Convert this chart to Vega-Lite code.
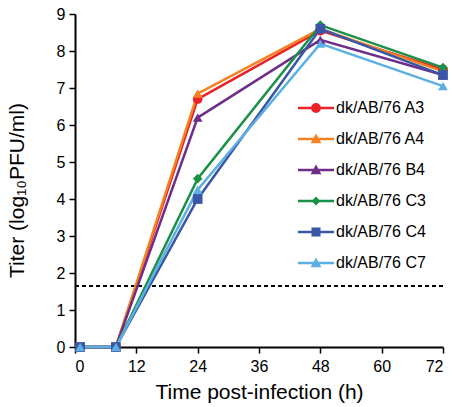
{
  "$schema": "https://vega.github.io/schema/vega-lite/v6.json",
  "autosize": "none",
  "width": 368,
  "height": 333,
  "padding": {"left": 75, "top": 14, "right": 9, "bottom": 60},
  "config": {
    "font": "Liberation Sans",
    "view": {"stroke": null},
    "axis": {"grid": false, "domainColor": "black", "domainWidth": 2, "tickColor": "black", "tickWidth": 1.5, "tickSize": 6, "labelColor": "black", "labelFontSize": 16, "titleFontSize": 21, "titleFontWeight": "normal", "titleColor": "black", "labelFont": "Liberation Sans", "titleFont": "Liberation Sans"}
  },
  "data": {"values": [
    {"series": "dk/AB/76 A3", "t": 1, "titer": 0},
    {"series": "dk/AB/76 A3", "t": 8, "titer": 0},
    {"series": "dk/AB/76 A3", "t": 24, "titer": 6.7},
    {"series": "dk/AB/76 A3", "t": 48, "titer": 8.55},
    {"series": "dk/AB/76 A3", "t": 72, "titer": 7.5},
    {"series": "dk/AB/76 A4", "t": 1, "titer": 0},
    {"series": "dk/AB/76 A4", "t": 8, "titer": 0},
    {"series": "dk/AB/76 A4", "t": 24, "titer": 6.85},
    {"series": "dk/AB/76 A4", "t": 48, "titer": 8.6},
    {"series": "dk/AB/76 A4", "t": 72, "titer": 7.45},
    {"series": "dk/AB/76 B4", "t": 1, "titer": 0},
    {"series": "dk/AB/76 B4", "t": 8, "titer": 0},
    {"series": "dk/AB/76 B4", "t": 24, "titer": 6.2},
    {"series": "dk/AB/76 B4", "t": 48, "titer": 8.3},
    {"series": "dk/AB/76 B4", "t": 72, "titer": 7.35},
    {"series": "dk/AB/76 C3", "t": 1, "titer": 0},
    {"series": "dk/AB/76 C3", "t": 8, "titer": 0},
    {"series": "dk/AB/76 C3", "t": 24, "titer": 4.55},
    {"series": "dk/AB/76 C3", "t": 48, "titer": 8.7},
    {"series": "dk/AB/76 C3", "t": 72, "titer": 7.55},
    {"series": "dk/AB/76 C4", "t": 1, "titer": 0},
    {"series": "dk/AB/76 C4", "t": 8, "titer": 0},
    {"series": "dk/AB/76 C4", "t": 24, "titer": 4.0},
    {"series": "dk/AB/76 C4", "t": 48, "titer": 8.6},
    {"series": "dk/AB/76 C4", "t": 72, "titer": 7.35},
    {"series": "dk/AB/76 C7", "t": 1, "titer": 0},
    {"series": "dk/AB/76 C7", "t": 8, "titer": 0},
    {"series": "dk/AB/76 C7", "t": 24, "titer": 4.25},
    {"series": "dk/AB/76 C7", "t": 48, "titer": 8.2},
    {"series": "dk/AB/76 C7", "t": 72, "titer": 7.05}
  ]},
  "encoding": {
    "x": {"field": "t", "type": "quantitative", "scale": {"domain": [0, 72], "nice": false}, "axis": {"values": [0, 12, 24, 36, 48, 60, 72], "title": "Time post-infection (h)", "labelPadding": 5, "titlePadding": 7}},
    "y": {"field": "titer", "type": "quantitative", "scale": {"domain": [0, 9], "nice": false}, "axis": {"values": [0, 1, 2, 3, 4, 5, 6, 7, 8, 9], "title": "Titer (log₁₀PFU/ml)", "labelPadding": 4, "titlePadding": 29, "titleY": 176}}
  },
  "layer": [
    {
      "mark": {"type": "rule", "strokeDash": [4, 3], "color": "black", "strokeWidth": 1.3},
      "encoding": {"x": {"datum": 0}, "x2": {"datum": 72}, "y": {"datum": 1.65}}
    },
    {
      "mark": {"type": "line", "strokeWidth": 2.5},
      "encoding": {
        "color": {"field": "series", "type": "nominal", "legend": null, "scale": {"domain": ["dk/AB/76 A3", "dk/AB/76 A4", "dk/AB/76 B4", "dk/AB/76 C3", "dk/AB/76 C4", "dk/AB/76 C7"], "range": ["#ea2227", "#f58220", "#6f2d8a", "#1a9147", "#3a56a6", "#5aafe3"]}}
      }
    },
    {
      "mark": {"type": "point", "filled": true, "opacity": 1, "size": 95},
      "encoding": {
        "color": {"field": "series", "type": "nominal", "legend": null, "scale": {"domain": ["dk/AB/76 A3", "dk/AB/76 A4", "dk/AB/76 B4", "dk/AB/76 C3", "dk/AB/76 C4", "dk/AB/76 C7"], "range": ["#ea2227", "#f58220", "#6f2d8a", "#1a9147", "#3a56a6", "#5aafe3"]}},
        "shape": {"field": "series", "type": "nominal", "legend": null, "scale": {"domain": ["dk/AB/76 A3", "dk/AB/76 A4", "dk/AB/76 B4", "dk/AB/76 C3", "dk/AB/76 C4", "dk/AB/76 C7"], "range": ["circle", "triangle-up", "triangle-up", "diamond", "square", "triangle-up"]}}
      }
    },
    {
      "mark": {"type": "point", "filled": true, "size": 0, "opacity": 1},
      "encoding": {
        "color": {"field": "series", "type": "nominal", "scale": {"domain": ["dk/AB/76 A3", "dk/AB/76 A4", "dk/AB/76 B4", "dk/AB/76 C3", "dk/AB/76 C4", "dk/AB/76 C7"], "range": ["#ea2227", "#f58220", "#6f2d8a", "#1a9147", "#3a56a6", "#5aafe3"]},
          "legend": {"title": null, "orient": "none", "legendX": 226, "legendY": 79, "symbolSize": 900, "symbolOpacity": 1, "symbolStrokeWidth": 0, "labelFontSize": 16, "labelColor": "black", "labelFont": "Liberation Sans", "labelOffset": 5, "rowPadding": 8, "labelLimit": 200}},
        "shape": {"field": "series", "type": "nominal", "scale": {"domain": ["dk/AB/76 A3", "dk/AB/76 A4", "dk/AB/76 B4", "dk/AB/76 C3", "dk/AB/76 C4", "dk/AB/76 C7"], "range": [
          "M-1.2,-0.08H1.2V0.08H-1.2Z M0.33,0A0.33,0.33,0,1,1,-0.33,0A0.33,0.33,0,1,1,0.33,0Z",
          "M-1.2,-0.08H1.2V0.08H-1.2Z M0,-0.36L0.36,0.28L-0.36,0.28Z",
          "M-1.2,-0.08H1.2V0.08H-1.2Z M0,-0.36L0.36,0.28L-0.36,0.28Z",
          "M-1.2,-0.08H1.2V0.08H-1.2Z M0,-0.3L0.3,0L0,0.3L-0.3,0Z",
          "M-1.2,-0.08H1.2V0.08H-1.2Z M-0.3,-0.3H0.3V0.3H-0.3Z",
          "M-1.2,-0.08H1.2V0.08H-1.2Z M0,-0.36L0.36,0.28L-0.36,0.28Z"
        ]}}
      }
    }
  ],
  "resolve": {"scale": {"color": "independent", "shape": "independent"}}
}
